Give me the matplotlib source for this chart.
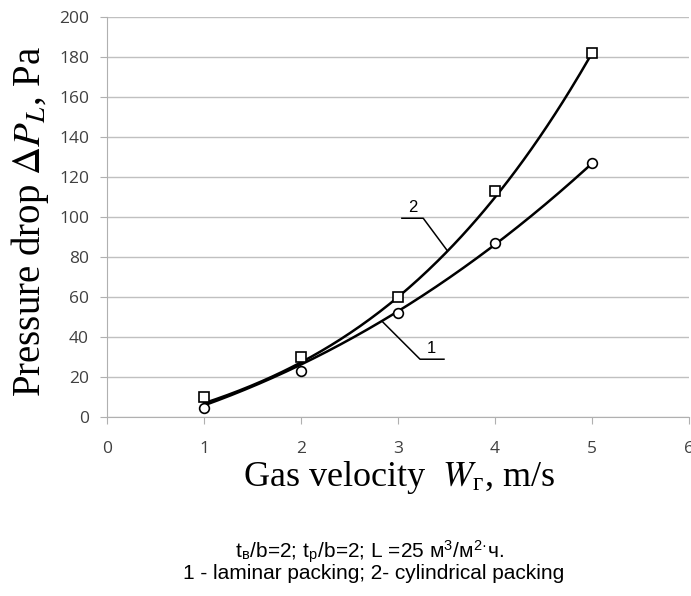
import numpy as np
import matplotlib
matplotlib.use("Agg")
import matplotlib.pyplot as plt

plt.rcParams['mathtext.fontset'] = 'stix'

# gas velocity, m/s
velocity = [1, 2, 3, 4, 5]
# 1 - laminar packing (circles)
dp_laminar = [4.5, 23, 52, 87, 127]
# 2 - cylindrical packing (squares)
dp_cylindrical = [10, 30, 60, 113, 182]
# smoothed curves as drawn on the chart, read at the same velocities
curve_laminar = [6, 26, 53.5, 86, 127]
curve_cylindrical = [7, 27.5, 60, 110, 182]

xticks = [0, 1, 2, 3, 4, 5, 6]
yticks = [0, 20, 40, 60, 80, 100, 120, 140, 160, 180, 200]

fig = plt.figure(figsize=(6.91, 5.96), dpi=100)
ax = fig.add_axes([0.155, 0.300, 0.842, 0.671])

xs = np.linspace(min(velocity), max(velocity), 200)
for ys in (curve_laminar, curve_cylindrical):
    c = np.polyfit(velocity, ys, 3)
    ax.plot(xs, np.polyval(c, xs), color='black', lw=1.8, zorder=3)

ax.plot(velocity, dp_laminar, 'o', ms=7, mfc='white', mec='black', mew=1.2, zorder=4)
ax.plot(velocity, dp_cylindrical, 's', ms=7.5, mfc='white', mec='black', mew=1.2, zorder=4)

# curve labels with leader lines
ax.plot([3.04, 3.26, 3.505], [99.5, 99.5, 83.5], color='black', lw=1.1, zorder=3)
ax.text(3.15, 101, '2', fontsize=12, family='Liberation Sans', ha='center', va='bottom')
ax.plot([2.845, 3.227, 3.474], [47.5, 29, 29], color='black', lw=1.1, zorder=3)
ax.text(3.34, 30.5, '1', fontsize=12, family='Liberation Sans', ha='center', va='bottom')

ax.set_xlim(0, 6)
ax.set_ylim(0, 200)
ax.set_xticks(xticks)
ax.set_yticks(yticks)
ax.grid(axis='y', color='#c0c0c0', lw=1)
ax.set_axisbelow(True)
for s in ['top', 'right']:
    ax.spines[s].set_visible(False)
for s in ['left', 'bottom']:
    ax.spines[s].set_color('#b0b0b0')
ax.tick_params(axis='x', colors='#b0b0b0', length=5, pad=12, labelcolor='#404040', labelsize=12.5)
ax.tick_params(axis='y', colors='#b0b0b0', length=5, pad=8, labelcolor='#404040', labelsize=12.5)
for lab in ax.get_xticklabels() + ax.get_yticklabels():
    lab.set_family('Open Sans')
    lab.set_clip_on(False)

ax.set_xlabel(r'Gas velocity  $W_\mathregular{г}$, m/s', family='Liberation Serif', fontsize=26)
ax.xaxis.set_label_coords(0.503, -0.105)
ax.set_ylabel(r'Pressure drop $\Delta P_L$, Pa', family='Liberation Serif', fontsize=28)
ax.yaxis.set_label_coords(-0.097, 0.49)

fig.text(0.54, 0.037, r'1 - laminar packing; 2- cylindrical packing',
         family='Liberation Sans', fontsize=15, ha='center', va='center')
fig.text(0.535, 0.073,
         r't$_\mathregular{в}$/b=2; t$_\mathregular{р}$/b=2; L =25 м$^\mathregular{3}$/м$^\mathregular{2·}$ч.',
         family='Liberation Sans', fontsize=15, ha='center', va='center')

fig.savefig('out.png', dpi=100)
